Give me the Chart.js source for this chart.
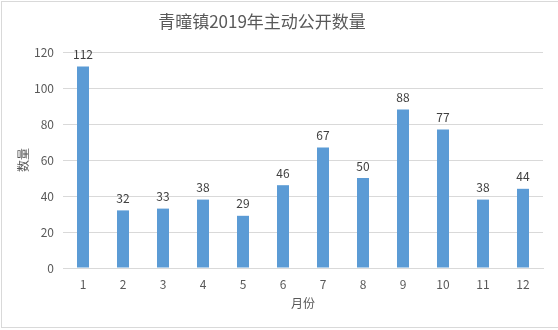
<!DOCTYPE html>
<html>
<head>
<meta charset="utf-8">
<script src="https://cdn.jsdelivr.net/npm/chart.js@4"></script>
<style>
  html, body { margin: 0; padding: 0; background: #fff; }
  #wrap { width: 558px; height: 330px; }
</style>
</head>
<body>
<div id="wrap"><canvas id="grafico" width="558" height="330"></canvas></div>
<script>
const meses = ['1', '2', '3', '4', '5', '6', '7', '8', '9', '10', '11', '12'];
const quantidades = [112, 32, 33, 38, 29, 46, 67, 50, 88, 77, 38, 44];
const titulo = '青曈镇2019年主动公开数量';
const tituloY = '数量';
const tituloX = '月份';

const fonte = '"Noto Sans CJK SC", "Noto Sans", sans-serif';

// textos extras: titulo, titulos dos eixos, rotulos das barras e borda
const extras = {
    id: 'extras',
    afterDraw(chart) {
        const ctx = chart.ctx;
        ctx.save();
        ctx.strokeStyle = '#d9d9d9';
        ctx.lineWidth = 1;
        ctx.strokeRect(1.5, 1.5, 560, 326);

        ctx.fillStyle = '#595959';
        ctx.textAlign = 'center';
        ctx.textBaseline = 'middle';
        ctx.font = '17px ' + fonte;
        ctx.fillText(titulo, 262, 22);

        ctx.font = '12px ' + fonte;
        ctx.fillText(tituloX, 303, 303);

        ctx.save();
        ctx.translate(23, 160);
        ctx.rotate(-Math.PI / 2);
        ctx.fillText(tituloY, 0, 0);
        ctx.restore();

        ctx.fillStyle = '#404040';
        ctx.textBaseline = 'bottom';
        const meta = chart.getDatasetMeta(0);
        meta.data.forEach((bar, i) => {
            ctx.fillText(String(quantidades[i]), bar.x, bar.y - 6);
        });
        ctx.restore();
    }
};

new Chart(document.getElementById('grafico').getContext('2d'), {
    type: 'bar',
    data: {
        labels: meses,
        datasets: [{
            label: tituloY,
            data: quantidades,
            backgroundColor: '#5b9bd5',
            barPercentage: 0.6,
            categoryPercentage: 0.5
        }]
    },
    options: {
        responsive: false,
        animation: false,
        layout: { padding: { top: 52, right: 15, left: 0, bottom: 0 } },
        plugins: {
            legend: { display: false },
            title: { display: false },
            tooltip: { enabled: false }
        },
        scales: {
            x: {
                grid: { display: false, drawTicks: false },
                border: { color: '#d9d9d9' },
                ticks: { color: '#595959', padding: 9, font: { family: fonte, size: 12 } },
                afterFit(scale) { scale.height = 62; }
            },
            y: {
                min: 0,
                max: 120,
                ticks: { stepSize: 20, color: '#595959', padding: 9, font: { family: fonte, size: 12 } },
                grid: { color: '#d9d9d9', drawTicks: false },
                border: { display: false },
                afterFit(scale) { scale.width = 63; }
            }
        }
    },
    plugins: [extras]
});
</script>
</body>
</html>
